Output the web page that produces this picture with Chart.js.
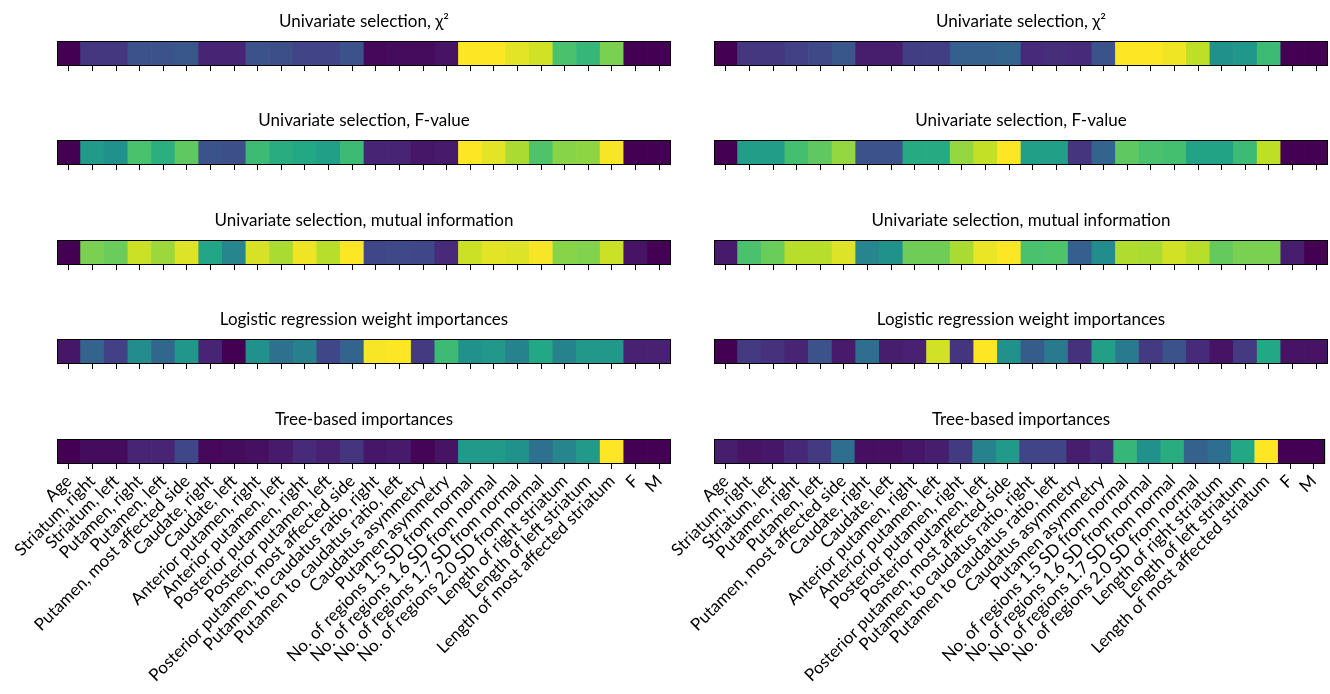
<!DOCTYPE html>
<html>
<head>
<meta charset="utf-8">
<script src="https://cdn.jsdelivr.net/npm/chart.js@4.4.1/dist/chart.umd.min.js"></script>
<style>
  body { margin: 0; background: #fff; }
  #fig { position: relative; width: 1330px; height: 694px; overflow: hidden; }
  #fig canvas { position: absolute; }
</style>
</head>
<body>
<div id="fig"></div>
<script>
// feature names along the x axis (same in both columns)
const features = [
  'Age', 'Striatum, right', 'Striatum, left', 'Putamen, right', 'Putamen, left',
  'Putamen, most affected side', 'Caudate, right', 'Caudate, left',
  'Anterior putamen, right', 'Anterior putamen, left',
  'Posterior putamen, right', 'Posterior putamen, left',
  'Posterior putamen, most affected side',
  'Putamen to caudatus ratio, right', 'Putamen to caudatus ratio, left',
  'Caudatus asymmetry', 'Putamen asymmetry',
  'No. of regions 1.5 SD from normal', 'No. of regions 1.6 SD from normal',
  'No. of regions 1.7 SD from normal', 'No. of regions 2.0 SD from normal',
  'Length of right striatum', 'Length of left striatum',
  'Length of most affected striatum', 'F', 'M'
];

const titles = [
  'Univariate selection, \u03c7\u00b2',
  'Univariate selection, F-value',
  'Univariate selection, mutual information',
  'Logistic regression weight importances',
  'Tree-based importances'
];

// normalised importances (0..1), left column
const chi2Left = [0, 0.16, 0.16, 0.25, 0.25, 0.27, 0.10, 0.10, 0.25, 0.24, 0.20, 0.20, 0.25,
  0.02, 0.03, 0.03, 0.05, 1.0, 1.0, 0.96, 0.93, 0.71, 0.66, 0.80, 0, 0];
const fvalueLeft = [0, 0.54, 0.50, 0.71, 0.63, 0.75, 0.25, 0.24, 0.68, 0.62, 0.60, 0.56, 0.68,
  0.10, 0.10, 0.06, 0.07, 1.0, 0.96, 0.87, 0.72, 0.82, 0.83, 0.99, 0, 0];
const mutualLeft = [0, 0.80, 0.77, 0.92, 0.85, 0.95, 0.59, 0.45, 0.94, 0.87, 0.98, 0.89, 1.0,
  0.21, 0.22, 0.21, 0.12, 0.92, 0.96, 0.95, 0.99, 0.82, 0.81, 0.92, 0.05, 0];
const logregLeft = [0.06, 0.32, 0.19, 0.48, 0.33, 0.52, 0.10, 0, 0.50, 0.37, 0.43, 0.21, 0.32,
  0.99, 1.0, 0.17, 0.68, 0.50, 0.53, 0.44, 0.60, 0.44, 0.53, 0.53, 0.09, 0.09];
const treeLeft = [0, 0.03, 0.03, 0.10, 0.10, 0.21, 0.02, 0.03, 0.04, 0.07, 0.12, 0.09, 0.15,
  0.06, 0.07, 0.01, 0.05, 0.54, 0.54, 0.50, 0.37, 0.45, 0.54, 1.0, 0, 0];

// right column
const chi2Right = [0, 0.16, 0.16, 0.19, 0.22, 0.27, 0.08, 0.08, 0.18, 0.18, 0.30, 0.30, 0.32,
  0.12, 0.13, 0.12, 0.25, 1.0, 1.0, 0.98, 0.90, 0.50, 0.52, 0.68, 0, 0];
const fvalueRight = [0, 0.55, 0.55, 0.70, 0.75, 0.84, 0.25, 0.25, 0.61, 0.61, 0.84, 0.91, 1.0,
  0.56, 0.56, 0.15, 0.32, 0.75, 0.71, 0.70, 0.58, 0.58, 0.68, 0.90, 0, 0];
const mutualRight = [0.07, 0.71, 0.77, 0.89, 0.89, 0.95, 0.45, 0.50, 0.78, 0.78, 0.87, 0.97, 1.0,
  0.71, 0.72, 0.30, 0.48, 0.88, 0.87, 0.93, 0.89, 0.76, 0.80, 0.80, 0.08, 0];
const logregRight = [0, 0.17, 0.14, 0.10, 0.25, 0.07, 0.36, 0.08, 0.09, 0.93, 0.15, 1.0, 0.50,
  0.29, 0.41, 0.14, 0.56, 0.41, 0.17, 0.25, 0.12, 0.05, 0.17, 0.60, 0.05, 0.05];
const treeRight = [0.08, 0.05, 0.06, 0.11, 0.17, 0.36, 0.04, 0.04, 0.06, 0.08, 0.17, 0.44, 0.54,
  0.20, 0.20, 0.08, 0.12, 0.66, 0.50, 0.62, 0.31, 0.36, 0.60, 1.0, 0, 0];

const leftCol = [chi2Left, fvalueLeft, mutualLeft, logregLeft, treeLeft];
const rightCol = [chi2Right, fvalueRight, mutualRight, logregRight, treeRight];

// viridis stops
const viridisStops = ['#440154', '#482475', '#414487', '#355f8d', '#2a788e', '#21918c',
  '#22a884', '#44bf70', '#7ad151', '#bddf26', '#fde725'];

function viridis(t) {
  t = Math.min(1, Math.max(0, t));
  const p = t * (viridisStops.length - 1);
  const i = Math.min(Math.floor(p), viridisStops.length - 2);
  const f = p - i;
  const a = hex(viridisStops[i]), b = hex(viridisStops[i + 1]);
  const c = a.map((v, k) => Math.round(v + (b[k] - v) * f));
  return `rgb(${c[0]},${c[1]},${c[2]})`;
}
function hex(h) {
  return [1, 3, 5].map(i => parseInt(h.slice(i, i + 2), 16));
}

const FONT = 'Lato, "DejaVu Sans", sans-serif';

const framePlugin = {
  id: 'frame',
  afterDraw(chart) {
    const { ctx, chartArea: a } = chart;
    ctx.save();
    ctx.strokeStyle = '#000';
    ctx.lineWidth = 1;
    ctx.strokeRect(Math.round(a.left) + 0.5, Math.round(a.top) + 0.5,
      Math.round(a.right - a.left) - 1, Math.round(a.bottom - a.top) - 1);
    ctx.restore();
  }
};

const fig = document.getElementById('fig');
const rowTops = [0, 99, 199, 298, 398];
// canvases overlap a little so the long rotated labels of the right column are not cut
const cols = [
  { left: 0, width: 680, padL: 57, padR: 9, data: leftCol },
  { left: 630, width: 700, padL: 84, padR: 2, data: rightCol }
];

cols.forEach(col => {
  col.data.forEach((values, r) => {
    const last = r === titles.length - 1;
    const height = last ? 694 - rowTops[r] : 99;
    const cv = document.createElement('canvas');
    cv.width = col.width;
    cv.height = height;
    cv.style.left = col.left + 'px';
    cv.style.top = rowTops[r] + 'px';
    cv.style.width = col.width + 'px';
    cv.style.height = height + 'px';
    fig.appendChild(cv);

    new Chart(cv, {
      type: 'bar',
      data: {
        labels: features,
        datasets: [{
          data: values.map(() => 1),
          backgroundColor: values.map(v => viridis(v)),
          borderWidth: 0,
          barPercentage: 1,
          categoryPercentage: 1
        }]
      },
      options: {
        responsive: false,
        animation: false,
        devicePixelRatio: 1,
        layout: { padding: { left: col.padL, right: col.padR, top: 0, bottom: last ? 0 : 25 } },
        plugins: {
          legend: { display: false },
          tooltip: { enabled: false },
          title: {
            display: true,
            text: titles[r],
            color: '#000',
            font: { family: FONT, size: 17, weight: 'normal', lineHeight: 1.2 },
            padding: { top: 11, bottom: 9.6 }
          }
        },
        scales: {
          x: {
            grid: { drawOnChartArea: false, drawTicks: true, tickLength: 5, color: '#000', offset: false },
            border: { display: false },
            ticks: {
              display: last,
              autoSkip: false,
              minRotation: 45,
              maxRotation: 45,
              padding: 2,
              color: '#000',
              font: { family: FONT, size: 17 }
            },
            afterFit(scale) { scale.height = last ? 230 : 8; }
          },
          y: { display: false, min: 0, max: 1 }
        }
      },
      plugins: [framePlugin]
    });
  });
});
</script>
</body>
</html>
